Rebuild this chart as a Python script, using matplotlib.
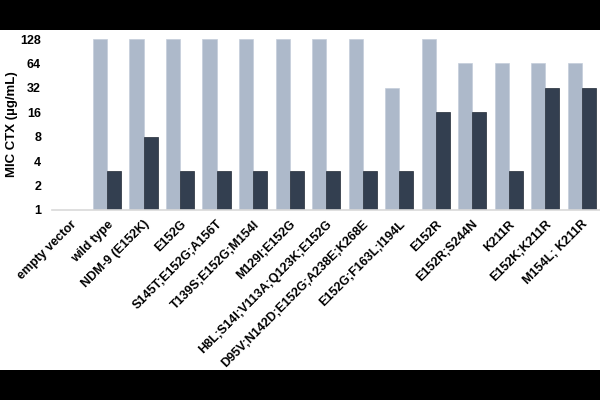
import numpy as np
import matplotlib.pyplot as plt
from matplotlib.patches import Rectangle

plt.rcParams['font.family'] = ['Liberation Sans', 'DejaVu Sans']
plt.rcParams['font.weight'] = 'bold'

variants = ['empty vector', 'wild type', 'NDM-9 (E152K)', 'E152G',
            'S145T;E152G;A156T', 'T139S;E152G;M154I', 'M129I;E152G',
            'H8L;S14I;V113A;Q123K;E152G', 'D95V;N142D;E152G;A238E;K268E',
            'E152G;F163L;I194L', 'E152R', 'E152R;S244N', 'K211R',
            'E152K;K211R', 'M154L; K211R']
mic_light = [1, 128, 128, 128, 128, 128, 128, 128, 128, 32, 128, 64, 64, 64, 64]
mic_dark = [1, 3, 8, 3, 3, 3, 3, 3, 3, 3, 16, 16, 3, 32, 32]
yticks = [1, 2, 4, 8, 16, 32, 64, 128]

fig = plt.figure(figsize=(6, 4), dpi=100, facecolor='black')
fig.add_artist(Rectangle((0, 30 / 400), 1, 340 / 400, transform=fig.transFigure,
                         facecolor='white', edgecolor='none', zorder=-5))
ax = fig.add_axes([0.087, 0.475, 0.913, 0.4275])
ax.set_facecolor('none')

x = np.arange(len(variants))
w = 0.385
ax.bar(x - w / 2, mic_light, w, color='#ADB9CA', edgecolor='#C5CEDA', linewidth=0.5)
ax.bar(x + w / 2, mic_dark, w, color='#333F50', edgecolor='#222A36', linewidth=0.5)

ax.set_yscale('log', base=2)
ax.set_ylim(1, 128)
ax.set_xlim(-0.5, len(variants) - 0.5)
ax.set_yticks(yticks)
ax.set_yticklabels([str(t) for t in yticks])
ax.minorticks_off()
ax.set_xticks(x)
ax.set_xticklabels(variants, rotation=45, ha='right', rotation_mode='anchor')
ax.tick_params(axis='both', length=0, labelsize=9)
ax.tick_params(axis='x', pad=6)
ax.tick_params(axis='y', pad=8)
for s in ['top', 'right', 'left']:
    ax.spines[s].set_visible(False)
ax.spines['bottom'].set_color('#D9D9D9')
ax.spines['bottom'].set_linewidth(1.2)
ax.set_ylabel('MIC CTX (µg/mL)', fontsize=9.5, fontweight='bold')
ax.yaxis.set_label_coords(-0.062, 0.5)

fig.savefig('out.png', dpi=100, facecolor=fig.get_facecolor())
